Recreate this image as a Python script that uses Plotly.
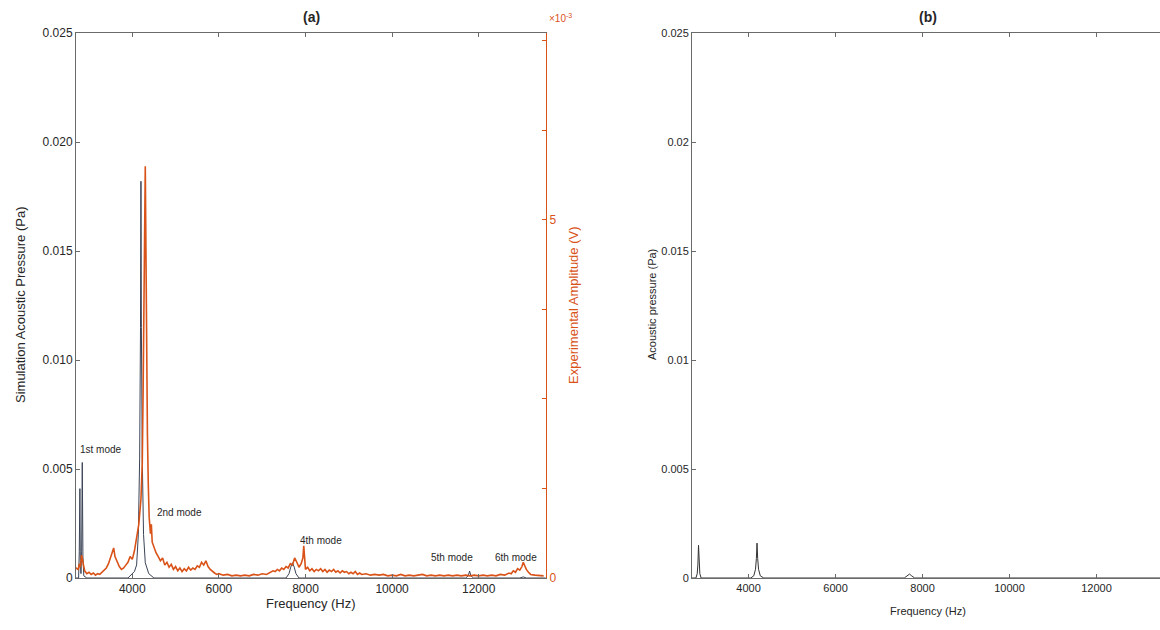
import plotly.graph_objects as go

W, H = 1160, 630

# ---------------- data ----------------
# (a) simulation acoustic pressure (Pa)
sim_a_freq = [2650, 2760, 2775, 2790, 2800, 2815, 2830, 2845, 2860, 2880, 2950, 3900, 4050, 4100,
              4140, 4170, 4190, 4200, 4210, 4230, 4260, 4300, 4380, 4500, 7550, 7620, 7660,
              7700, 7740, 7780, 7850, 11700, 11760, 11790, 11820, 11880, 12950, 13030, 13100, 13550]
sim_a_val = [0.0, 0.0, 0.0012, 0.0041, 0.0008, 0.0002, 0.0012, 0.0053, 0.0010, 0.0001, 0.0, 0.0, 0.0003, 0.0006,
             0.0020, 0.0055, 0.0115, 0.0182, 0.0115, 0.0055, 0.0020, 0.0007, 0.0002, 0.0, 0.0, 0.0002, 0.0005,
             0.0007, 0.0005, 0.0002, 0.0, 0.0, 0.0001, 0.00032, 0.0001, 0.0, 0.0, 0.00005, 0.0, 0.0]

# (a) experimental amplitude (x 10^-3 V)
exp_freq = [2650, 2700, 2750, 2780, 2800, 2830, 2860, 2900, 2950, 3000, 3050, 3100, 3150, 3200, 3250,
            3300, 3350, 3400, 3450, 3500, 3540, 3570, 3600, 3650, 3700, 3750, 3800, 3850, 3900, 3950,
            4000, 4050, 4100, 4150, 4200, 4230, 4250, 4270, 4285, 4300, 4315, 4330, 4350, 4370, 4390,
            4420, 4440, 4460, 4500, 4550, 4600, 4650, 4700, 4750, 4800, 4850, 4900, 4950, 5000, 5050,
            5100, 5150, 5200, 5250, 5300, 5350, 5400, 5450, 5500, 5550, 5600, 5650, 5700, 5750, 5800,
            5850, 5900, 5950, 6000, 6100, 6200, 6300, 6400, 6500, 6600, 6700, 6800, 6900, 7000, 7100,
            7200, 7250, 7300, 7350, 7400, 7450, 7500, 7550, 7600, 7650, 7700, 7750, 7800, 7850, 7900,
            7940, 7960, 7980, 8000, 8050, 8100, 8150, 8200, 8250, 8300, 8350, 8400, 8450, 8500, 8550,
            8600, 8650, 8700, 8750, 8800, 8850, 8900, 8950, 9000, 9050, 9100, 9150, 9200, 9250, 9300,
            9400, 9500, 9600, 9700, 9800, 9900, 10000, 10100, 10200, 10300, 10400, 10500, 10600, 10700,
            10800, 10900, 11000, 11100, 11200, 11300, 11400, 11500, 11600, 11700, 11800, 11900, 12000,
            12100, 12200, 12300, 12400, 12500, 12600, 12700, 12750, 12800, 12850, 12900, 12950, 13000,
            13030, 13060, 13100, 13150, 13200, 13300, 13400, 13500]
exp_amp = [0.10, 0.14, 0.12, 0.20, 0.15, 0.32, 0.22, 0.10, 0.06, 0.08, 0.05, 0.07, 0.04, 0.06, 0.05,
           0.08, 0.10, 0.14, 0.20, 0.28, 0.36, 0.42, 0.30, 0.22, 0.16, 0.12, 0.14, 0.18, 0.22, 0.30,
           0.26, 0.38, 0.55, 0.75, 1.10, 1.60, 2.60, 4.00, 5.20, 5.75, 4.60, 3.20, 2.00, 1.30, 0.85,
           0.62, 0.75, 0.50, 0.42, 0.35, 0.30, 0.24, 0.28, 0.18, 0.22, 0.15, 0.19, 0.12, 0.16, 0.10,
           0.14, 0.09, 0.13, 0.10, 0.15, 0.11, 0.14, 0.12, 0.17, 0.15, 0.22, 0.18, 0.24, 0.16, 0.12,
           0.09, 0.07, 0.05, 0.06, 0.04, 0.05, 0.03, 0.04, 0.03, 0.04, 0.03, 0.05, 0.04, 0.06, 0.05,
           0.08, 0.10, 0.09, 0.12, 0.10, 0.14, 0.12, 0.16, 0.14, 0.20, 0.18, 0.28, 0.22, 0.15, 0.20,
           0.28, 0.45, 0.22, 0.12, 0.15, 0.10, 0.13, 0.09, 0.12, 0.10, 0.13, 0.09, 0.12, 0.08, 0.11,
           0.09, 0.12, 0.08, 0.10, 0.07, 0.10, 0.08, 0.09, 0.06, 0.08, 0.06, 0.09, 0.05, 0.07, 0.05,
           0.06, 0.04, 0.05, 0.04, 0.05, 0.03, 0.04, 0.03, 0.05, 0.03, 0.04, 0.03, 0.04, 0.05,
           0.03, 0.04, 0.03, 0.04, 0.03, 0.04, 0.03, 0.04, 0.03, 0.04, 0.03, 0.04, 0.03,
           0.04, 0.03, 0.04, 0.03, 0.05, 0.04, 0.07, 0.06, 0.10, 0.08, 0.13, 0.11, 0.16,
           0.22, 0.18, 0.12, 0.08, 0.05, 0.04, 0.03, 0.03]

# (b) acoustic pressure (Pa)
sim_b_freq = [2650, 2790, 2820, 2835, 2850, 2865, 2880, 2910, 4050, 4120, 4160, 4180, 4195, 4210,
              4230, 4270, 4350, 7580, 7650, 7700, 7750, 7820, 13500]
sim_b_val = [0.0, 0.0, 0.0002, 0.0006, 0.0015, 0.0006, 0.0002, 0.0, 0.0, 0.0001, 0.0004, 0.0009, 0.0016, 0.0009,
             0.0004, 0.0001, 0.0, 0.0, 0.0001, 0.00018, 0.0001, 0.0, 0.0]

x_ticks = [4000, 6000, 8000, 10000, 12000]
x_text = ["4000", "6000", "8000", "10000", "12000"]
ya_ticks = [0, 0.005, 0.010, 0.015, 0.020, 0.025]
ya_text = ["0", "0.005", "0.010", "0.015", "0.020", "0.025"]
yb_text = ["0", "0.005", "0.01", "0.015", "0.02", "0.025"]
yr_ticks = [0, 5]
yr_text = ["0", "5"]
yr_minor = [1.25, 2.5, 3.75, 6.25, 7.5]

mode_labels = ["1st mode", "2nd mode", "4th mode", "5th mode", "6th mode"]
mode_x = [2750, 4520, 7830, 10850, 12330]
mode_y = [0.0059, 0.0030, 0.00174, 0.00096, 0.00096]

# ---------------- styling ----------------
FONT = "Liberation Sans, Arial, Helvetica, sans-serif"
ORANGE = "#D95319"
AX = "#6a6a6a"
TXT = "#262626"

xa_dom = [76 / W, 546 / W]
xb_dom = [692 / W, 1.0]
y_dom = [1 - 578 / H, 1 - 33 / H]

fig = go.Figure()
fig.add_trace(go.Scatter(x=exp_freq, y=exp_amp, mode="lines", xaxis="x", yaxis="y3",
                         line=dict(color=ORANGE, width=1.6), showlegend=False))
fig.add_trace(go.Scatter(x=sim_a_freq, y=sim_a_val, mode="lines", xaxis="x", yaxis="y",
                         line=dict(color="#3a4356", width=1.0), showlegend=False))
fig.add_trace(go.Scatter(x=sim_b_freq, y=sim_b_val, mode="lines", xaxis="x2", yaxis="y2",
                         line=dict(color="#333333", width=1.0), showlegend=False))

common_x = dict(tickvals=x_ticks, ticktext=x_text, ticks="inside", ticklen=4, tickcolor=AX,
                showline=True, linecolor=AX, linewidth=1, mirror="ticks", showgrid=False,
                zeroline=False)

fig.update_layout(
    width=W, height=H, margin=dict(l=0, r=0, t=0, b=0),
    paper_bgcolor="white", plot_bgcolor="white", template="none",
    font=dict(family=FONT, color=TXT),
    xaxis=dict(domain=xa_dom, range=[2700, 13555], anchor="y",
               tickfont=dict(size=12, color=TXT), **common_x),
    yaxis=dict(domain=y_dom, range=[0, 0.025], anchor="x", tickvals=ya_ticks, ticktext=ya_text,
               ticks="inside", ticklen=4, tickcolor=AX, showline=True, linecolor=AX, linewidth=1,
               mirror=False, showgrid=False, zeroline=False, tickfont=dict(size=12, color=TXT)),
    yaxis3=dict(overlaying="y", side="right", anchor="x", range=[0, 7.61], tickvals=yr_ticks,
                ticktext=yr_text, ticks="inside", ticklen=4, tickcolor=ORANGE, showline=True,
                linecolor=ORANGE, linewidth=1, showgrid=False, zeroline=False,
                minor=dict(tickvals=yr_minor, ticks="inside", ticklen=4, tickcolor=ORANGE),
                tickfont=dict(size=12, color=ORANGE)),
    xaxis2=dict(domain=xb_dom, range=[2700, 13459], anchor="y2",
                tickfont=dict(size=11, color=TXT), **common_x),
    yaxis2=dict(domain=y_dom, range=[0, 0.025], anchor="x2", tickvals=ya_ticks, ticktext=yb_text,
                ticks="inside", ticklen=4, tickcolor=AX, showline=True, linecolor=AX, linewidth=1,
                mirror=False, showgrid=False, zeroline=False, tickfont=dict(size=11, color=TXT)),
)

ann = []
for t, x, y in zip(mode_labels, mode_x, mode_y):
    ann.append(dict(text=t, x=x, y=y, xref="x", yref="y", xanchor="left", yanchor="middle",
                    showarrow=False, font=dict(size=10, color=TXT)))


def pa(text, px, py, size, color=TXT, angle=0, bold=False):
    return dict(text=(f"<b>{text}</b>" if bold else text), x=px / W, y=1 - py / H, xref="paper",
                yref="paper", xanchor="center", yanchor="middle", showarrow=False, textangle=angle,
                font=dict(size=size, color=color, family=FONT))


ann += [
    pa("(a)", 311, 17, 14, bold=True),
    pa("(b)", 928, 17, 14, bold=True),
    pa("Frequency (Hz)", 311, 603, 13),
    pa("Frequency (Hz)", 928, 611, 11),
    pa("Simulation Acoustic Pressure (Pa)", 20, 305, 13, angle=-90),
    pa("Acoustic pressure (Pa)", 652, 305, 11, angle=-90),
    pa("Experimental Amplitude (V)", 573, 305, 13, color=ORANGE, angle=-90),
    pa("×10<sup>-3</sup>", 560, 18, 10, color=ORANGE),
]
fig.update_layout(annotations=ann)

fig.write_html("out.html")
